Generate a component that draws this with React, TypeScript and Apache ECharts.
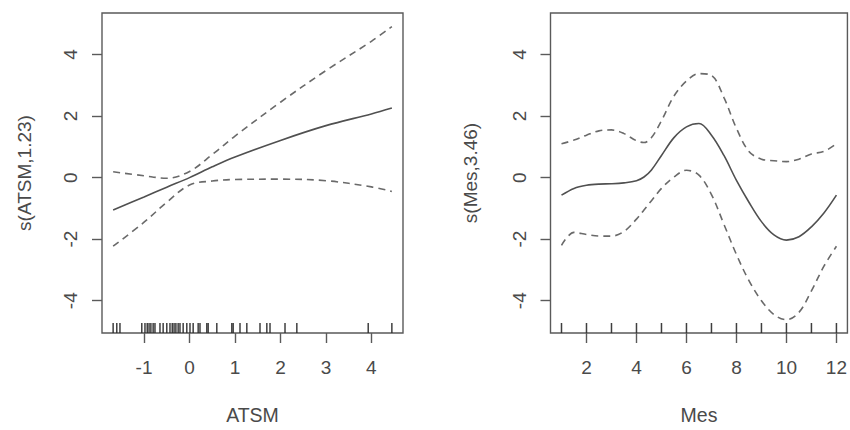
import React, { useEffect, useRef } from "react";
import * as echarts from "echarts";

// ---- Left panel: s(ATSM,1.23) ----
const atsmX = [-1.68, -1, -0.5, 0, 0.5, 1, 2, 3, 4, 4.45];
const atsmFit = [-1.05, -0.63, -0.31, 0.0, 0.35, 0.67, 1.21, 1.69, 2.07, 2.26];
const atsmUpper = [0.19, 0.06, -0.02, 0.2, 0.75, 1.35, 2.45, 3.48, 4.43, 4.91];
const atsmLower = [-2.23, -1.45, -0.8, -0.24, -0.11, -0.06, -0.05, -0.1, -0.3, -0.45];
const atsmRug = [
  -1.68, -1.6, -1.53, -1.05, -0.98, -0.93, -0.89, -0.85, -0.8, -0.76, -0.65,
  -0.58, -0.5, -0.43, -0.38, -0.34, -0.3, -0.25, -0.21, -0.14, -0.06, 0.01,
  0.08, 0.19, 0.23, 0.38, 0.41, 0.6, 0.93, 0.96, 1.11, 1.26, 1.55, 1.7, 1.77,
  2.1, 2.36, 3.93, 4.45,
];
const atsmTicks = [-1, 0, 1, 2, 3, 4];

// ---- Right panel: s(Mes,3.46) ----
const mesX = [1, 1.5, 2, 2.5, 3, 3.5, 4, 4.3, 4.6, 5, 5.5, 6, 6.5, 7, 7.5, 8, 8.5, 9, 9.5, 10, 10.5, 11, 11.5, 12];
const mesFit = [-0.57, -0.35, -0.25, -0.21, -0.2, -0.17, -0.1, 0.02, 0.25, 0.72, 1.3, 1.65, 1.76, 1.38, 0.72, -0.09, -0.8, -1.43, -1.86, -2.03, -1.92, -1.6, -1.15, -0.57];
const mesUpper = [1.1, 1.22, 1.38, 1.52, 1.55, 1.43, 1.2, 1.14, 1.3, 1.85, 2.65, 3.14, 3.38, 3.32, 2.6, 1.6, 0.85, 0.6, 0.55, 0.52, 0.6, 0.77, 0.85, 1.1];
const mesLower = [-2.2, -1.78, -1.85, -1.9, -1.9, -1.75, -1.35, -1.05, -0.75, -0.35, 0.02, 0.24, 0.08, -0.55, -1.52, -2.5, -3.35, -4.0, -4.45, -4.62, -4.38, -3.68, -2.88, -2.23];
const mesRug = [1, 2, 3, 4, 5, 6, 7, 8, 9, 10, 11, 12];
const mesTicks = [2, 4, 6, 8, 10, 12];

const yTicks = [-4, -2, 0, 2, 4];
const yMin = -5.05;
const yMax = 5.35;

const FONT = "Liberation Sans, Arial, sans-serif";
const TEXT = "#4a4a4a";
const LINE = "#5a5a5a";

function zip(xs: number[], ys: number[]) {
  return xs.map((x, i) => [x, ys[i]]);
}

export default function App() {
  const ref = useRef<HTMLDivElement>(null);
  useEffect(() => {
    if (!ref.current) return;
    const chart = echarts.init(ref.current, null, { renderer: "svg" });

    const xAxisBase = (idx: number, min: number, max: number, ticks: number[], name: string) => ({
      type: "value",
      gridIndex: idx,
      min,
      max,
      name,
      nameLocation: "middle",
      nameGap: 72,
      nameTextStyle: { color: TEXT, fontSize: 19.5, fontFamily: FONT },
      axisLine: { show: false, onZero: false },
      splitLine: { show: false },
      axisTick: { show: true, length: 10, lineStyle: { color: LINE, width: 1.4 }, customValues: ticks },
      axisLabel: { color: TEXT, fontSize: 19, fontFamily: FONT, margin: 25, customValues: ticks },
    });
    const yAxisBase = (idx: number, name: string, gap: number) => ({
      type: "value",
      gridIndex: idx,
      min: yMin,
      max: yMax,
      name,
      nameLocation: "middle",
      nameGap: gap,
      nameRotate: 90,
      nameTextStyle: { color: TEXT, fontSize: 19, fontFamily: FONT },
      axisLine: { show: false, onZero: false },
      splitLine: { show: false },
      axisTick: { show: true, length: 10, lineStyle: { color: LINE, width: 1.4 }, customValues: yTicks },
      axisLabel: { color: TEXT, fontSize: 19, fontFamily: FONT, rotate: 90, margin: 22, customValues: yTicks },
    });

    const lineSeries = (idx: number, data: number[][], dashed: boolean) => ({
      type: "line",
      xAxisIndex: idx,
      yAxisIndex: idx,
      data,
      smooth: 0.35,
      showSymbol: false,
      symbol: "none",
      lineStyle: {
        color: dashed ? "#6a6a6a" : "#505050",
        width: 1.6,
        type: dashed ? [7, 5] : "solid",
      },
      silent: true,
    });
    const rugSeries = (idx: number, xs: number[]) => ({
      type: "scatter",
      xAxisIndex: idx,
      yAxisIndex: idx,
      data: xs.map((x) => [x, yMin]),
      symbol: "rect",
      symbolSize: [1.5, 10],
      symbolOffset: [0, -5],
      itemStyle: { color: "#2a2a2a", opacity: 0.9 },
      silent: true,
    });

    chart.setOption({
      animation: false,
      grid: [
        { left: 102, top: 13, width: 301, height: 323, show: true, borderColor: LINE, borderWidth: 1.4, backgroundColor: "transparent" },
        { left: 550.5, top: 13, width: 298.5, height: 323, show: true, borderColor: LINE, borderWidth: 1.4, backgroundColor: "transparent" },
      ],
      xAxis: [
        xAxisBase(0, -1.925, 4.695, atsmTicks, "ATSM"),
        xAxisBase(1, 0.56, 12.44, mesTicks, "Mes"),
      ],
      yAxis: [yAxisBase(0, "s(ATSM,1.23)", 68), yAxisBase(1, "s(Mes,3.46)", 71)],
      series: [
        lineSeries(0, zip(atsmX, atsmFit), false),
        lineSeries(0, zip(atsmX, atsmUpper), true),
        lineSeries(0, zip(atsmX, atsmLower), true),
        rugSeries(0, atsmRug),
        lineSeries(1, zip(mesX, mesFit), false),
        lineSeries(1, zip(mesX, mesUpper), true),
        lineSeries(1, zip(mesX, mesLower), true),
        rugSeries(1, mesRug),
      ],
    });
    return () => chart.dispose();
  }, []);
  return (
    <div
      ref={ref}
      style={{ position: "fixed", left: 0, top: 0, width: 850, height: 430, background: "#fff" }}
    />
  );
}
